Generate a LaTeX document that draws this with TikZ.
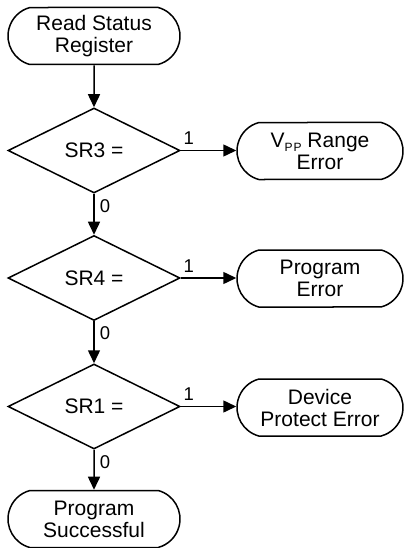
\documentclass[tikz,border=0pt]{standalone}
\usepackage{fontspec}
\setmainfont{Liberation Sans}
\usetikzlibrary{shapes.geometric,shapes.misc,arrows.meta}
\tikzset{
  term/.style={draw, rounded rectangle, rounded rectangle arc length=150, minimum height=57pt, inner sep=0pt, align=center, font=\fontsize{21}{22}\selectfont},
  leftterm/.style={term, minimum width=172pt},
  rightterm/.style={term, minimum width=166pt},
  decision/.style={draw, diamond, minimum width=172pt, minimum height=85pt, inner sep=0pt, font=\fontsize{21}{22}\selectfont},
  conn/.style={-{Triangle[length=13pt,width=12pt]}},
  lbl/.style={font=\fontsize{18.5}{18.5}\selectfont, inner sep=0pt},
}
\begin{document}
\begin{tikzpicture}[x=1pt,y=1pt,line width=1.5pt]
\useasboundingbox (0,0) rectangle (406,-548);
\node[leftterm] (start) at (94,-36) {Read Status\\Register};
\node[decision] (d3) at (94,-150.5) {SR3 =\hspace{6pt}};
\node[decision] (d4) at (94,-278) {SR4 =\hspace{6pt}};
\node[decision] (d1) at (94,-406.5) {SR1 =\hspace{6pt}};
\node[leftterm] (done) at (94,-519) {Program\\Successful};
\node[rightterm] (e3) at (320,-151) {V\raisebox{-0.4ex}{\fontsize{12}{12}\selectfont P\kern1pt P} Range\\Error};
\node[rightterm] (e4) at (320,-278.5) {Program\\Error};
\node[rightterm] (e1) at (320,-407.5) {Device\\Protect Error};
\draw[conn] (start) -- (d3);
\draw[conn] (d3) -- (d4);
\draw[conn] (d4) -- (d1);
\draw[conn] (d1) -- (done);
\draw[conn] (d3.east) -- (e3.west |- d3.east);
\draw[conn] (d4.east) -- (e4.west |- d4.east);
\draw[conn] (d1.east) -- (e1.west |- d1.east);
\node[lbl, anchor=south west] (l3) at ([xshift=2pt,yshift=5pt]d3.east) {1};
\node[lbl, anchor=south west] (l4) at ([xshift=2pt,yshift=5pt]d4.east) {1};
\node[lbl, anchor=south west] (l1) at ([xshift=2pt,yshift=5pt]d1.east) {1};
\node[lbl, anchor=north west] (z3) at ([xshift=5pt,yshift=-5pt]d3.south) {0};
\node[lbl, anchor=north west] (z4) at ([xshift=5pt,yshift=-5pt]d4.south) {0};
\node[lbl, anchor=north west] (z1) at ([xshift=5pt,yshift=-5pt]d1.south) {0};
\end{tikzpicture}
\end{document}
